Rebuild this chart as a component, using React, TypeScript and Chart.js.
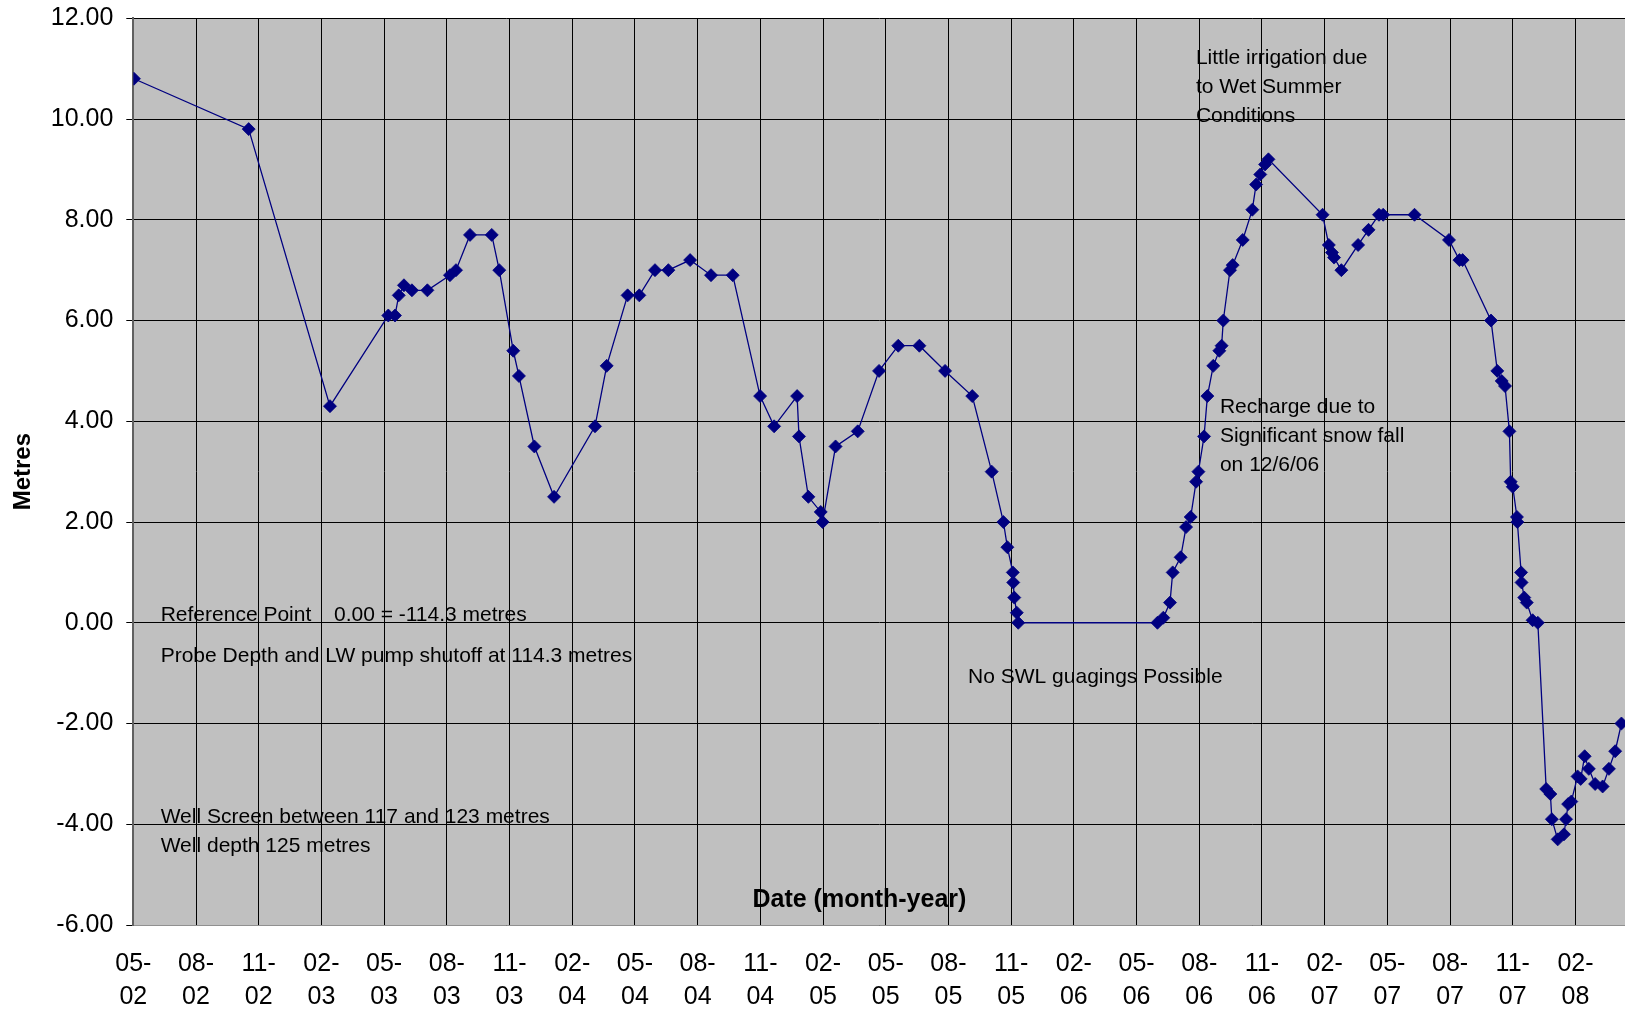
import { useEffect, useRef } from "react";
import { Chart, registerables } from "chart.js";

Chart.register(...registerables);

// x: months since May 2002 (decimal), y: water level in metres
const monthsSinceMay2002 = [
  0.03, 5.52, 9.41, 12.2, 12.52, 12.7, 12.95, 13.33, 14.07, 15.15, 15.44, 16.11, 17.15, 17.51,
  18.18, 18.45, 19.19, 20.13, 22.09, 22.65, 23.65, 24.21, 24.96, 25.6, 26.64, 27.64, 28.68,
  29.99, 30.66, 31.76, 31.85, 32.3, 32.89, 32.98, 33.6, 34.66, 35.68, 36.6, 37.61, 38.84,
  40.14, 41.07, 41.63, 41.82, 42.08, 42.1, 42.15, 42.27, 42.34,
  49.0, 49.28, 49.6, 49.73, 50.11, 50.37, 50.59, 50.85, 50.96, 51.23, 51.39, 51.67, 51.96,
  52.07, 52.15, 52.47, 52.6, 53.08, 53.54, 53.72, 53.92, 54.15, 54.31,
  56.9, 57.2, 57.35, 57.45, 57.8, 58.6, 59.1, 59.6, 59.8, 61.3, 62.95, 63.45, 63.6,
  64.96, 65.26, 65.47, 65.63, 65.84, 65.9, 66.0, 66.2, 66.22, 66.4, 66.42, 66.55, 66.67,
  66.95, 67.2, 67.6, 67.8, 67.87, 68.15, 68.45, 68.55, 68.65, 68.8, 69.1, 69.25, 69.44,
  69.64, 69.94, 70.3, 70.6, 70.9, 71.2,
];

const waterLevelMetres = [
  10.8, 9.8, 4.3, 6.1, 6.1, 6.5, 6.7, 6.6, 6.6, 6.9, 7.0, 7.7, 7.7, 7.0,
  5.4, 4.9, 3.5, 2.5, 3.9, 5.1, 6.5, 6.5, 7.0, 7.0, 7.2, 6.9, 6.9,
  4.5, 3.9, 4.5, 3.7, 2.5, 2.2, 2.0, 3.5, 3.8, 5.0, 5.5, 5.5, 5.0,
  4.5, 3.0, 2.0, 1.5, 1.0, 0.8, 0.5, 0.2, 0.0,
  0.0, 0.1, 0.4, 1.0, 1.3, 1.9, 2.1, 2.8, 3.0, 3.7, 4.5, 5.1, 5.4,
  5.5, 6.0, 7.0, 7.1, 7.6, 8.2, 8.7, 8.9, 9.1, 9.2,
  8.1, 7.5, 7.35, 7.25, 7.0, 7.5, 7.8, 8.1, 8.1, 8.1, 7.6, 7.2, 7.2,
  6.0, 5.0, 4.8, 4.7, 3.8, 2.8, 2.7, 2.1, 2.0, 1.0, 0.8, 0.5, 0.4,
  0.05, 0.0, -3.3, -3.4, -3.9, -4.3, -4.2, -3.9, -3.6, -3.55, -3.05, -3.1, -2.65,
  -2.9, -3.2, -3.25, -2.9, -2.55, -2.0,
];

const xTickLabels = [
  "05-02", "08-02", "11-02", "02-03", "05-03", "08-03", "11-03", "02-04",
  "05-04", "08-04", "11-04", "02-05", "05-05", "08-05", "11-05", "02-06",
  "05-06", "08-06", "11-06", "02-07", "05-07", "08-07", "11-07", "02-08",
];

const FONT = "'Liberation Sans', Arial, sans-serif";

const plotBackground = {
  id: "plotBackground",
  beforeDraw(chart: any) {
    const { ctx, chartArea: a } = chart;
    ctx.save();
    ctx.fillStyle = "#C0C0C0";
    ctx.fillRect(a.left, a.top, a.right - a.left, a.bottom - a.top);
    ctx.restore();
  },
};

const annotations = {
  id: "annotations",
  afterDraw(chart: any) {
    const { ctx } = chart;
    const xs = chart.scales.x;
    const ys = chart.scales.y;
    const px = (v: number) => xs.getPixelForValue(v);
    const py = (v: number) => ys.getPixelForValue(v);
    const lh = 29;
    ctx.save();
    ctx.fillStyle = "#000";
    ctx.textAlign = "left";
    ctx.textBaseline = "middle";
    ctx.font = `21px ${FONT}`;
    const block = (lines: string[], x: number, y: number) => {
      lines.forEach((l, i) => ctx.fillText(l, px(x), py(y) + i * lh));
    };
    block(["Little irrigation due", "to Wet Summer", "Conditions"], 50.84, 11.21);
    block(["Recharge due to", "Significant snow fall", "on 12/6/06"], 51.99, 4.27);
    block(["No SWL guagings Possible"], 39.94, -1.08);
    block(["Reference Point"], 1.31, 0.15);
    block(["0.00 = -114.3 metres"], 9.6, 0.15);
    block(["Probe Depth and LW pump shutoff at 114.3 metres"], 1.31, -0.66);
    block(["Well Screen between 117 and 123 metres", "Well depth 125 metres"], 1.31, -3.86);
    ctx.font = `bold 25px ${FONT}`;
    ctx.textAlign = "center";
    ctx.fillText("Date (month-year)", px(34.74), py(-5.5));
    ctx.restore();
  },
};

export default function App() {
  const ref = useRef<HTMLCanvasElement | null>(null);

  useEffect(() => {
    document.body.style.margin = "0";
    document.body.style.overflow = "hidden";
    const canvas = ref.current;
    if (!canvas) return;
    const data = monthsSinceMay2002.map((x, i) => ({ x, y: waterLevelMetres[i] }));
    const chart = new Chart(canvas, {
      type: "line",
      data: {
        datasets: [
          {
            label: "Water level",
            data,
            borderColor: "#000080",
            backgroundColor: "#000080",
            borderWidth: 1.3,
            pointStyle: "rectRot",
            pointRadius: 6.5,
            pointBorderWidth: 0.8,
            pointBorderColor: "#000080",
            pointBackgroundColor: "#000080",
            tension: 0,
            fill: false,
          },
        ],
      },
      options: {
        responsive: false,
        animation: false,
        events: [],
        layout: { autoPadding: false, padding: { top: 18.3, left: 0, right: 0, bottom: 0 } },
        plugins: {
          legend: { display: false },
          tooltip: { enabled: false },
          title: { display: false },
        },
        scales: {
          x: {
            type: "linear",
            min: 0,
            max: 71.37,
            afterFit(scale: any) {
              scale.height = 85;
              scale.paddingLeft = 0;
              scale.paddingRight = 0;
            },
            ticks: {
              stepSize: 3,
              includeBounds: false,
              autoSkip: false,
              maxRotation: 0,
              minRotation: 0,
              padding: 22,
              color: "#000",
              font: { family: FONT, size: 25, lineHeight: 1.33 },
              callback: (value: any) => {
                const lbl = xTickLabels[Math.round(Number(value) / 3)];
                if (!lbl) return "";
                return [lbl.slice(0, 3), lbl.slice(3)];
              },
            },
            grid: {
              color: "#000",
              lineWidth: 1,
              drawTicks: false,
            },
            border: { display: true, color: "#909090", width: 1 },
          },
          y: {
            type: "linear",
            min: -6,
            max: 12,
            afterFit(scale: any) {
              scale.width = 133.3;
              scale.paddingTop = 0;
              scale.paddingBottom = 0;
            },
            ticks: {
              stepSize: 2,
              padding: 13,
              color: "#000",
              font: { family: FONT, size: 25 },
              callback: (value: any) => Number(value).toFixed(2),
            },
            grid: {
              color: "#000",
              lineWidth: 1,
              drawTicks: true,
              tickLength: 7,
              tickColor: "#000",
            },
            border: { display: true, color: "#606060", width: 2 },
            title: {
              display: true,
              text: "Metres",
              color: "#000",
              font: { family: FONT, size: 24, weight: "bold" },
              padding: { top: 9, bottom: 0 },
            },
          },
        },
      },
      plugins: [plotBackground, annotations],
    });
    return () => chart.destroy();
  }, []);

  return (
    <div style={{ position: "absolute", left: 0, top: 0, width: 1625, height: 1010 }}>
      <canvas ref={ref} width={1625} height={1010} style={{ display: "block" }} />
    </div>
  );
}
